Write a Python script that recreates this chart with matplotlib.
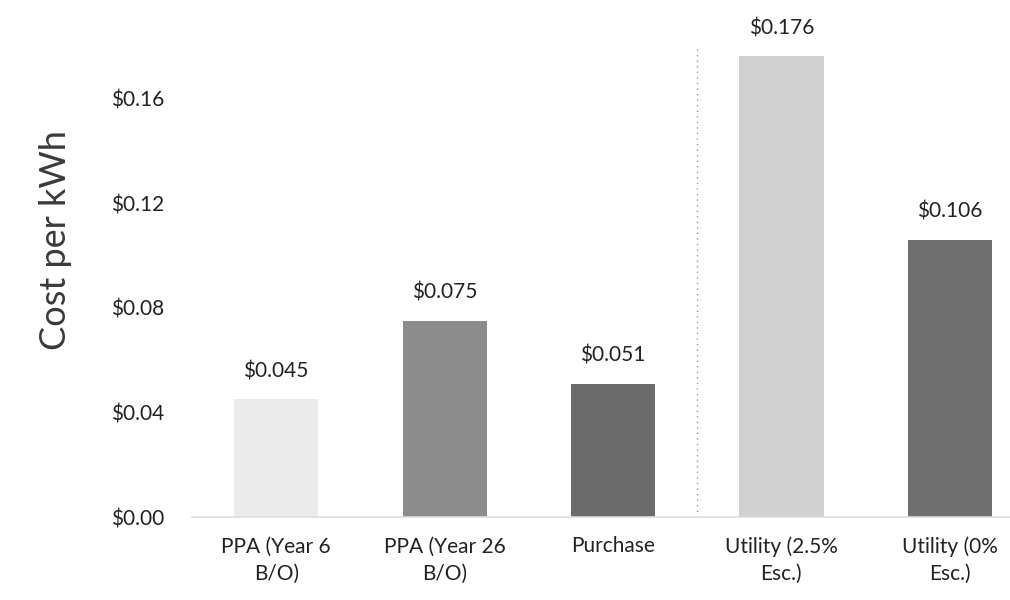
import matplotlib.pyplot as plt
import numpy as np

plt.rcParams["font.family"] = ["Lato", "DejaVu Sans"]

categories = ["PPA (Year 6\nB/O)", "PPA (Year 26\nB/O)", "Purchase",
              "Utility (2.5%\nEsc.)", "Utility (0%\nEsc.)"]
costs = [0.045, 0.075, 0.051, 0.176, 0.106]
value_labels = ["$0.045", "$0.075", "$0.051", "$0.176", "$0.106"]
bar_colors = ["#ebebeb", "#8c8c8c", "#6b6b6b", "#d0d0d0", "#6f6f6f"]
yticks = [0.0, 0.04, 0.08, 0.12, 0.16]
ytick_labels = ["$0.00", "$0.04", "$0.08", "$0.12", "$0.16"]

fig = plt.figure(figsize=(10.1, 6), dpi=100)
ax = fig.add_axes([192 / 1010, 83 / 600, 842 / 1010, 471 / 600])

x = np.arange(len(costs))
ax.bar(x, costs, width=0.5, color=bar_colors)
for xi, v, lab in zip(x, costs, value_labels):
    ax.annotate(lab, (xi, v), xytext=(0, 13), textcoords="offset points",
                ha="center", va="bottom", fontsize=15, color="#222222")

# separator between own-generation options and utility
ax.axvline(2.5, color="#999999", linestyle=(0, (1, 3)), linewidth=1)

ax.set_xlim(-0.5, 4.5)
ax.set_ylim(0, 0.18)
ax.set_xticks(x)
ax.set_xticklabels(categories, fontsize=15, color="#222222", linespacing=1.45)
ax.set_yticks(yticks)
ax.set_yticklabels(ytick_labels, fontsize=15, color="#222222")
ax.tick_params(axis="both", length=0)
ax.tick_params(axis="y", pad=20)
ax.tick_params(axis="x", pad=14)

for s in ["top", "right", "left"]:
    ax.spines[s].set_visible(False)
ax.spines["bottom"].set_color("#dddddd")
ax.spines["bottom"].set_linewidth(1.2)

fig.text(55 / 1010, 1 - 240 / 600, "Cost per kWh", rotation=90, fontsize=26,
         color="#3a3a3a", ha="center", va="center")

fig.savefig("out.png", dpi=100)
